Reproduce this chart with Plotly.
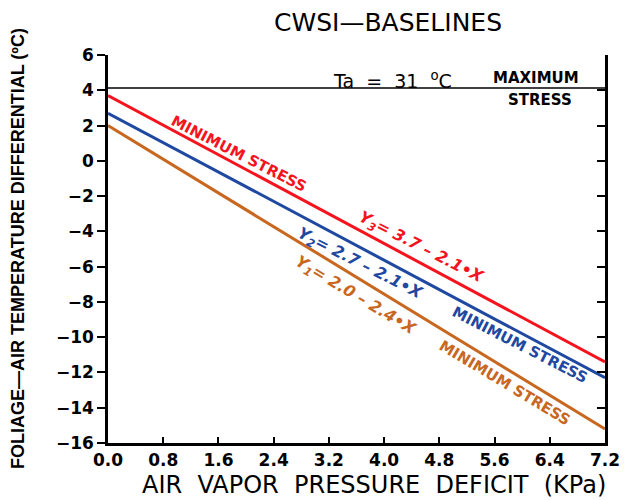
import plotly.graph_objects as go

# Data
x_ends = [0.0, 7.2]
y3_min_stress = [3.7, -11.4]   # red
y2_min_stress = [2.7, -12.3]   # blue
y1_min_stress = [2.0, -15.2]   # orange
max_stress_x = [0.0, 7.2]
max_stress_y = [4.13, 4.13]
x_ticks = [0.0, 0.8, 1.6, 2.4, 3.2, 4.0, 4.8, 5.6, 6.4, 7.2]
y_ticks = [6, 4, 2, 0, -2, -4, -6, -8, -10, -12, -14, -16]

RED = "#f5141e"
BLUE = "#1f48a0"
ORANGE = "#c8671f"

fig = go.Figure()
fig.add_trace(go.Scatter(x=x_ends, y=y3_min_stress, mode="lines",
                         line=dict(color=RED, width=3), showlegend=False))
fig.add_trace(go.Scatter(x=x_ends, y=y2_min_stress, mode="lines",
                         line=dict(color=BLUE, width=3), showlegend=False))
fig.add_trace(go.Scatter(x=x_ends, y=y1_min_stress, mode="lines",
                         line=dict(color=ORANGE, width=3), showlegend=False))
fig.add_trace(go.Scatter(x=max_stress_x, y=max_stress_y, mode="lines", yaxis="y2",
                         line=dict(color="black", width=1.6), showlegend=False))

FONT = "DejaVu Sans, Verdana, sans-serif"
tick_font = dict(family=FONT, size=17, color="black", weight="bold")

fig.update_layout(
    width=632, height=500,
    margin=dict(l=108, r=19, t=55, b=57),
    paper_bgcolor="white", plot_bgcolor="white",
    xaxis=dict(range=[0, 7.2], tickvals=x_ticks,
               ticktext=[f"<b>{v:.1f}</b>" for v in x_ticks],
               ticks="inside", ticklen=6, tickwidth=2, tickcolor="black",
               showline=True, linewidth=2.5, linecolor="black",
               showgrid=False, zeroline=False, tickfont=tick_font),
    yaxis=dict(range=[-16, 6], tickvals=y_ticks,
               ticktext=["<b>" + str(v).replace("-", "\u2212") + "</b>" for v in y_ticks],
               ticks="outside", ticklen=8, tickwidth=2, tickcolor="black",
               showline=True, linewidth=2.5, linecolor="black",
               showgrid=False, zeroline=False, tickfont=tick_font),
    yaxis2=dict(range=[-16, 6], tickvals=y_ticks, overlaying="y", side="right",
                ticks="inside", ticklen=8, tickwidth=2, tickcolor="black",
                showticklabels=False,
                showline=True, linewidth=2.5, linecolor="black",
                showgrid=False, zeroline=False),
)

anns = [
    # titles
    dict(text="CWSI\u2014BASELINES", x=0.563, y=1.0, xref="paper", yref="paper",
         xanchor="center", yanchor="middle", yshift=33,
         font=dict(family=FONT, size=25, color="black")),
    dict(text="AIR  VAPOR  PRESSURE  DEFICIT  (KPa)", x=0.535, y=0, xref="paper", yref="paper",
         xanchor="center", yanchor="middle", yshift=-42,
         font=dict(family=FONT, size=24, color="black")),
    dict(text="<b>FOLIAGE\u2014AIR TEMPERATURE DIFFERENTIAL (\u00baC)</b>", x=0, y=0.5,
         xref="paper", yref="paper", xanchor="center", yanchor="middle",
         xshift=-90, textangle=-90,
         font=dict(family="Liberation Sans Narrow, Liberation Sans, sans-serif",
                   size=18, color="black")),
    # Ta label
    dict(text="Ta  =  31  <sup>o</sup>C", x=4.12, y=4.6, xref="x", yref="y2",
         xanchor="center", yanchor="middle",
         font=dict(family=FONT, size=19, color="black")),
    dict(text="MAXIMUM", x=6.20, y=4.70, xref="x", yref="y2",
         xanchor="center", yanchor="middle",
         font=dict(family=FONT, size=15, color="black", weight="bold")),
    dict(text="STRESS", x=6.26, y=3.45, xref="x", yref="y2",
         xanchor="center", yanchor="middle",
         font=dict(family=FONT, size=15, color="black", weight="bold")),
    # red labels
    dict(text="MINIMUM STRESS", x=1.90, y=0.39, xref="x", yref="y",
         textangle=27, font=dict(family=FONT, size=15, color=RED, weight="bold")),
    dict(text="<i>Y<sub>3</sub>= 3.7 \u2013 2.1\u2022X</i>", x=4.53, y=-4.94,
         xref="x", yref="y", textangle=27,
         font=dict(family=FONT, size=16, color=RED, weight="bold")),
    # blue labels
    dict(text="<i>Y<sub>2</sub>= 2.7 \u2013 2.1\u2022X</i>", x=3.64, y=-5.85,
         xref="x", yref="y", textangle=27,
         font=dict(family=FONT, size=16, color=BLUE, weight="bold")),
    dict(text="MINIMUM STRESS", x=5.97, y=-10.44, xref="x", yref="y",
         textangle=27, font=dict(family=FONT, size=15, color=BLUE, weight="bold")),
    # orange labels
    dict(text="<i>Y<sub>1</sub>= 2.0 \u2013 2.4\u2022X</i>", x=3.58, y=-7.61,
         xref="x", yref="y", textangle=31,
         font=dict(family=FONT, size=16, color=ORANGE, weight="bold")),
    dict(text="MINIMUM STRESS", x=5.75, y=-12.59, xref="x", yref="y",
         textangle=31, font=dict(family=FONT, size=15, color=ORANGE, weight="bold")),
]
for a in anns:
    a.setdefault("showarrow", False)
fig.update_layout(annotations=anns)

fig.write_html("out.html")
